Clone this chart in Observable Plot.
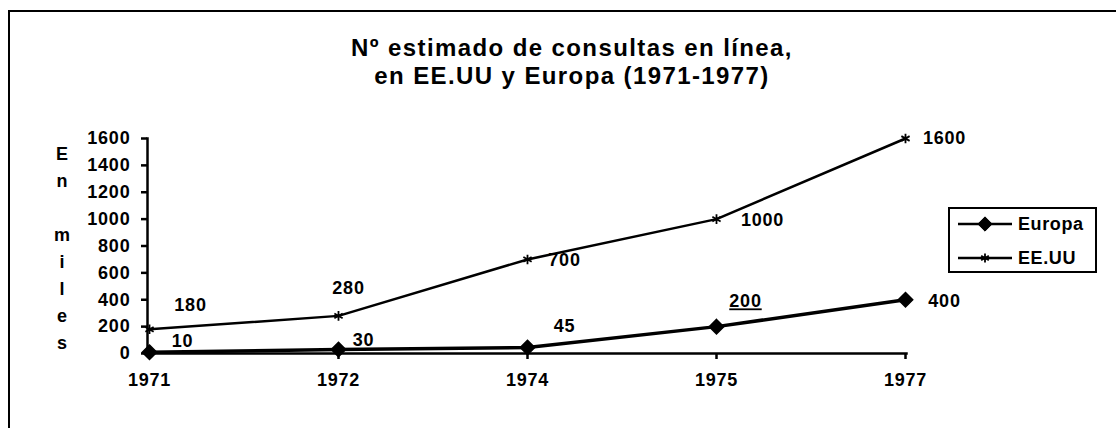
<!DOCTYPE html>
<html><head><meta charset="utf-8">
<script src="https://cdn.jsdelivr.net/npm/d3@7"></script>
<script src="https://cdn.jsdelivr.net/npm/@observablehq/plot@0.6"></script>
<style>
body{margin:0;background:#fff;}
#wrap{position:relative;width:1116px;height:428px;overflow:hidden;font-family:"Liberation Sans",Arial,sans-serif;font-weight:bold;color:#000;background:#fff;}
#frame{position:absolute;left:8px;top:10px;right:-5px;bottom:-5px;border-top:2.5px solid #000;border-left:2.5px solid #000;}
#chart{position:absolute;left:0;top:0;}
#title{position:absolute;left:0;width:1144px;top:34px;text-align:center;font-size:24px;line-height:28px;letter-spacing:1.4px;}
#ylab{position:absolute;left:52px;width:20px;top:141px;text-align:center;font-size:18px;line-height:27px;white-space:pre;}
#legend{position:absolute;left:948px;top:207px;width:145px;height:62px;border:2px solid #000;font-size:18px;letter-spacing:0.6px;}
#legend .row{position:absolute;left:6px;height:24px;display:flex;align-items:center;}
#legend svg{display:block;margin-right:4px;}
#wrap svg text{font-family:"Liberation Sans",Arial,sans-serif;font-weight:bold;font-size:18px;letter-spacing:0.8px;}
</style>
</head><body>
<div id="wrap">
  <div id="chart"></div>
  <div id="frame"></div>
  <div id="title"></div>
  <div id="ylab"></div>
  <div id="legend"></div>
</div>
<script>
// ---- data ----
const titleLines = ["Nº estimado de consultas en línea,", "en EE.UU y Europa (1971-1977)"];
const yLabel = "E\nn\n\nm\ni\nl\ne\ns";
const years = ["1971", "1972", "1974", "1975", "1977"];
const europa = [10, 30, 45, 200, 400];
const eeuu = [180, 280, 700, 1000, 1600];
const yTicks = [0, 200, 400, 600, 800, 1000, 1200, 1400, 1600];
const seriesNames = ["Europa", "EE.UU"];

const data = years.flatMap((yr, i) => [
  {year: yr, serie: "Europa", value: europa[i]},
  {year: yr, serie: "EE.UU", value: eeuu[i]}
]);

document.getElementById("title").innerHTML = titleLines.join("<br>");
document.getElementById("ylab").textContent = yLabel;

// label placement (style options, not data)
const labelOffsets = {
  "EE.UU": {"1971": [41, -24], "1972": [10, -28], "1974": [37, 1], "1975": [46, 1], "1977": [39, 0]},
  "Europa": {"1971": [33, -11], "1972": [25, -9], "1974": [37, -21], "1975": [29, -25], "1977": [39, 1]}
};
const underlined = {serie: "Europa", year: "1975"};
const labelMarks = [];
for (const s of seriesNames) {
  for (const yr of years) {
    const [dx, dy] = labelOffsets[s][yr];
    labelMarks.push(Plot.text(data, {
      filter: d => d.serie === s && d.year === yr,
      x: "year", y: "value", text: d => String(d.value),
      dx, dy, textAnchor: "middle", fill: "black",
      className: (s === underlined.serie && yr === underlined.year) ? "lbl-underline" : "lbl"
    }));
  }
}

const plot = Plot.plot({
  width: 1116, height: 428,
  marginLeft: 147, marginRight: 210, marginTop: 138, marginBottom: 75,
  x: {type: "point", domain: years, padding: 0},
  y: {domain: [0, 1600]},
  style: {background: "transparent", color: "black"},
  marks: [
    Plot.axisY({ticks: yTicks, tickFormat: d => String(d), tickSize: 6, tickPadding: 11, strokeWidth: 2.5, label: null}),
    Plot.axisX({tickSize: 6, tickPadding: 14, strokeWidth: 2.5, label: null}),
    Plot.frame({anchor: "left", strokeWidth: 2.5}),
    Plot.frame({anchor: "bottom", strokeWidth: 2.5}),
    Plot.line(data, {filter: d => d.serie === "EE.UU", x: "year", y: "value", stroke: "black", strokeWidth: 2.5}),
    Plot.line(data, {filter: d => d.serie === "Europa", x: "year", y: "value", stroke: "black", strokeWidth: 3.5}),
    Plot.dot(data, {filter: d => d.serie === "Europa", x: "year", y: "value", symbol: "diamond2", r: 6.5, fill: "black", stroke: "black"}),
    Plot.dot(data, {filter: d => d.serie === "EE.UU", x: "year", y: "value", symbol: "asterisk", r: 4.5, stroke: "black", strokeWidth: 1.8, fill: "white"}),
    ...labelMarks
  ]
});
document.getElementById("chart").appendChild(plot);
// underline the one label that is underlined in the reference
plot.querySelectorAll("text").forEach(t => {
  const g = t.closest("g");
  const isAxis = g && /axis/.test(g.getAttribute("aria-label") || "");
  const target = String(data.find(d => d.serie === underlined.serie && d.year === underlined.year).value);
  if (!isAxis && t.textContent === target && Math.abs(+(t.getAttribute("dy") ? 0 : 0)) === 0) {
    // only value labels with the underlined class or fallback on content outside axes
    t.setAttribute("text-decoration", "underline");
    t.style.textDecoration = "underline";
  }
});

// legend
const legend = document.getElementById("legend");
const symbols = {Europa: d3.symbol(d3.symbolDiamond2, 130)(), "EE.UU": d3.symbol(d3.symbolAsterisk, 55)()};
seriesNames.forEach((s, i) => {
  const row = document.createElement("div");
  row.className = "row";
  row.style.top = (i === 0 ? 3 : 37) + "px";
  const sym = s === "Europa"
    ? `<path d="${symbols[s]}" transform="translate(29,12)" fill="black" stroke="black"/>`
    : `<path d="${symbols[s]}" transform="translate(29,12)" fill="white" stroke="black" stroke-width="1.8"/>`;
  row.innerHTML = `<svg width="58" height="24"><line x1="2" x2="56" y1="12" y2="12" stroke="black" stroke-width="2.5"/>${sym}</svg><span>${s}</span>`;
  legend.appendChild(row);
});
</script>
</body></html>
